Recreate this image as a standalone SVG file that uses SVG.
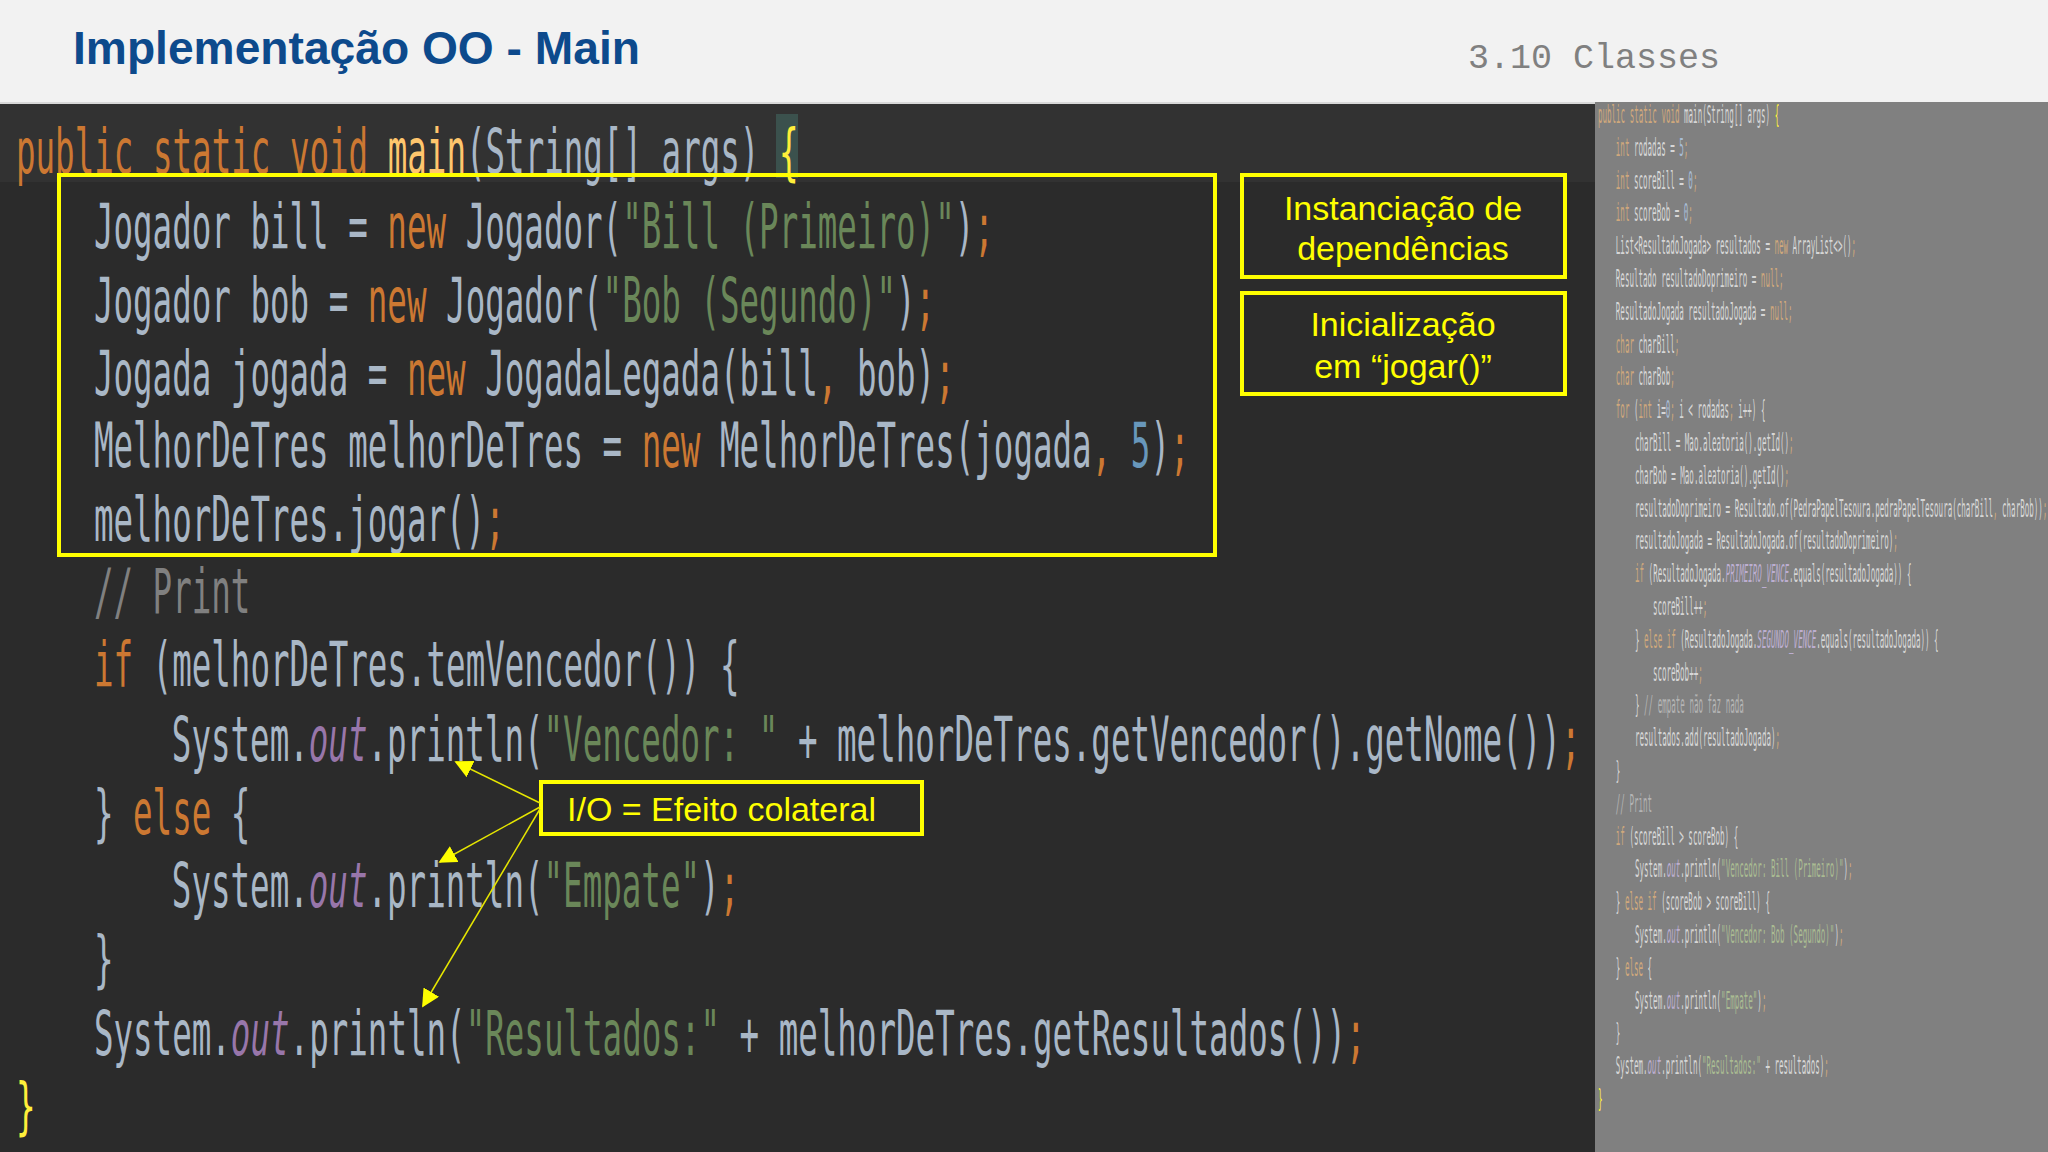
<svg xmlns="http://www.w3.org/2000/svg" width="2048" height="1152" viewBox="0 0 2048 1152">
<style>
.c{font-family:"DejaVu Sans Mono",monospace;font-size:63px;fill:#a9b7c6}
.m{font-family:"DejaVu Sans Mono",monospace;font-size:24px;fill:#d6d6d6}
.k{fill:#cc7832}.s{fill:#6a8759}.n{fill:#6897bb}.o{fill:#9876aa;font-style:italic}.g{fill:#808080}.y{fill:#ffef3a}.f{fill:#ffc66d}
.m .k{fill:#cfa87c}.m .s{fill:#a9bb92}.m .n{fill:#a8bdd6}.m .o{fill:#bcaed0}.m .g,.m.g{fill:#b4b4b4}
.box{fill:none;stroke:#ffff00;stroke-width:4}
.lab{font-family:"Liberation Sans",Arial,sans-serif;font-size:34px;fill:#ffff00}
.ar{stroke:#e6e600;stroke-width:1.5;fill:none}
</style>
<defs><marker id="ah" viewBox="0 0 10 10" refX="9" refY="5" markerWidth="18" markerHeight="18" markerUnits="userSpaceOnUse" orient="auto"><path d="M0,0 L10,5 L0,10 z" fill="#ffff00"/></marker></defs>
<rect x="0" y="0" width="2048" height="1152" fill="#2b2b2b"/>
<rect x="0" y="0" width="2048" height="102" fill="#f2f2f2"/>
<rect x="0" y="102" width="2048" height="2" fill="#d8d8d8"/>
<rect x="0" y="104" width="1595" height="78" fill="#323232"/>
<rect x="776" y="114" width="22" height="64" fill="#3b514d"/>
<g id="title"><text x="73" y="64" font-family="Liberation Sans,Arial,sans-serif" font-weight="bold" font-size="46" fill="#0d4a8c" textLength="567" lengthAdjust="spacingAndGlyphs">Implementação OO - Main</text>
<text x="1468" y="68" font-family="Liberation Mono,monospace" font-size="35" fill="#808080">3.10 Classes</text></g>
<g id="code" transform="scale(0.516,1)">
<text class="c" x="31" y="173"><tspan class="k">public static void </tspan><tspan class="f">main</tspan>(String[] args) <tspan class="y">{</tspan></text>
<text class="c" x="182" y="248">Jogador bill = <tspan class="k">new</tspan> Jogador(<tspan class="s">"Bill (Primeiro)"</tspan>)<tspan class="k">;</tspan></text>
<text class="c" x="182" y="322">Jogador bob = <tspan class="k">new</tspan> Jogador(<tspan class="s">"Bob (Segundo)"</tspan>)<tspan class="k">;</tspan></text>
<text class="c" x="182" y="395">Jogada jogada = <tspan class="k">new</tspan> JogadaLegada(bill<tspan class="k">,</tspan> bob)<tspan class="k">;</tspan></text>
<text class="c" x="182" y="467">MelhorDeTres melhorDeTres = <tspan class="k">new</tspan> MelhorDeTres(jogada<tspan class="k">,</tspan> <tspan class="n">5</tspan>)<tspan class="k">;</tspan></text>
<text class="c" x="182" y="541">melhorDeTres.jogar()<tspan class="k">;</tspan></text>
<text class="c g" x="182" y="613">// Print</text>
<text class="c" x="182" y="686"><tspan class="k">if</tspan> (melhorDeTres.temVencedor()) {</text>
<text class="c" x="333" y="761">System.<tspan class="o">out</tspan>.println(<tspan class="s">"Vencedor: "</tspan> + melhorDeTres.getVencedor().getNome())<tspan class="k">;</tspan></text>
<text class="c" x="182" y="834">} <tspan class="k">else</tspan> {</text>
<text class="c" x="333" y="907">System.<tspan class="o">out</tspan>.println(<tspan class="s">"Empate"</tspan>)<tspan class="k">;</tspan></text>
<text class="c" x="182" y="980">}</text>
<text class="c" x="182" y="1055">System.<tspan class="o">out</tspan>.println(<tspan class="s">"Resultados:"</tspan> + melhorDeTres.getResultados())<tspan class="k">;</tspan></text>
<text class="c y" x="31" y="1127">}</text>
</g>
<rect x="1595" y="102" width="453" height="1050" fill="#808080"/>
<g id="mini" transform="scale(0.314,1)">
<text class="m" x="5089" y="123"><tspan class="k">public static void </tspan>main(String[] args) <tspan class="y">{</tspan></text>
<text class="m" x="5146" y="156"><tspan class="k">int</tspan> rodadas = <tspan class="n">5</tspan><tspan class="k">;</tspan></text>
<text class="m" x="5146" y="189"><tspan class="k">int</tspan> scoreBill = <tspan class="n">0</tspan><tspan class="k">;</tspan></text>
<text class="m" x="5146" y="221"><tspan class="k">int</tspan> scoreBob = <tspan class="n">0</tspan><tspan class="k">;</tspan></text>
<text class="m" x="5146" y="254">List&lt;ResultadoJogada&gt; resultados = <tspan class="k">new</tspan> ArrayList&lt;&gt;()<tspan class="k">;</tspan></text>
<text class="m" x="5146" y="287">Resultado resultadoDoprimeiro = <tspan class="k">null;</tspan></text>
<text class="m" x="5146" y="320">ResultadoJogada resultadoJogada = <tspan class="k">null;</tspan></text>
<text class="m" x="5146" y="353"><tspan class="k">char</tspan> charBill<tspan class="k">;</tspan></text>
<text class="m" x="5146" y="385"><tspan class="k">char</tspan> charBob<tspan class="k">;</tspan></text>
<text class="m" x="5146" y="418"><tspan class="k">for</tspan> (<tspan class="k">int</tspan> i=<tspan class="n">0</tspan><tspan class="k">;</tspan> i &lt; rodadas<tspan class="k">;</tspan> i++) {</text>
<text class="m" x="5207" y="451">charBill = Mao.aleatoria().getId()<tspan class="k">;</tspan></text>
<text class="m" x="5207" y="484">charBob = Mao.aleatoria().getId()<tspan class="k">;</tspan></text>
<text class="m" x="5207" y="517">resultadoDoprimeiro = Resultado.of(PedraPapelTesoura.pedraPapelTesoura(charBill<tspan class="k">,</tspan> charBob))<tspan class="k">;</tspan></text>
<text class="m" x="5207" y="549">resultadoJogada = ResultadoJogada.of(resultadoDoprimeiro)<tspan class="k">;</tspan></text>
<text class="m" x="5207" y="582"><tspan class="k">if</tspan> (ResultadoJogada.<tspan class="o">PRIMEIRO_VENCE</tspan>.equals(resultadoJogada)) {</text>
<text class="m" x="5264" y="615">scoreBill++<tspan class="k">;</tspan></text>
<text class="m" x="5207" y="648">} <tspan class="k">else if</tspan> (ResultadoJogada.<tspan class="o">SEGUNDO_VENCE</tspan>.equals(resultadoJogada)) {</text>
<text class="m" x="5264" y="681">scoreBob++<tspan class="k">;</tspan></text>
<text class="m" x="5207" y="713">} <tspan class="g">// empate não faz nada</tspan></text>
<text class="m" x="5207" y="746">resultados.add(resultadoJogada)<tspan class="k">;</tspan></text>
<text class="m" x="5146" y="779">}</text>
<text class="m g" x="5146" y="812">// Print</text>
<text class="m" x="5146" y="845"><tspan class="k">if</tspan> (scoreBill &gt; scoreBob) {</text>
<text class="m" x="5207" y="877">System.<tspan class="o">out</tspan>.println(<tspan class="s">"Vencedor: Bill (Primeiro)"</tspan>)<tspan class="k">;</tspan></text>
<text class="m" x="5146" y="910">} <tspan class="k">else if</tspan> (scoreBob &gt; scoreBill) {</text>
<text class="m" x="5207" y="943">System.<tspan class="o">out</tspan>.println(<tspan class="s">"Vencedor: Bob (Segundo)"</tspan>)<tspan class="k">;</tspan></text>
<text class="m" x="5146" y="976">} <tspan class="k">else</tspan> {</text>
<text class="m" x="5207" y="1009">System.<tspan class="o">out</tspan>.println(<tspan class="s">"Empate"</tspan>)<tspan class="k">;</tspan></text>
<text class="m" x="5146" y="1041">}</text>
<text class="m" x="5146" y="1074">System.<tspan class="o">out</tspan>.println(<tspan class="s">"Resultados:"</tspan> + resultados)<tspan class="k">;</tspan></text>
<text class="m y" x="5089" y="1107">}</text>
</g>
<g id="box-deps"><rect class="box" x="59" y="175" width="1156" height="380"/></g>
<g id="note-inst"><rect class="box" x="1242" y="175" width="323" height="102"/>
<text class="lab" x="1403" y="220" text-anchor="middle">Instanciação de</text>
<text class="lab" x="1403" y="260" text-anchor="middle">dependências</text></g>
<g id="note-init"><rect class="box" x="1242" y="293" width="323" height="101"/>
<text class="lab" x="1403" y="336" text-anchor="middle">Inicialização</text>
<text class="lab" x="1403" y="378" text-anchor="middle">em “jogar()”</text></g>
<g id="note-io"><rect class="box" x="541" y="782" width="381" height="52"/>
<text class="lab" x="567" y="821">I/O = Efeito colateral</text></g>
<g id="connectors">
<line class="ar" x1="540" y1="803" x2="456" y2="762" marker-end="url(#ah)"/>
<line class="ar" x1="540" y1="807" x2="440" y2="862" marker-end="url(#ah)"/>
<line class="ar" x1="540" y1="809" x2="423" y2="1006" marker-end="url(#ah)"/>
</g>
</svg>
